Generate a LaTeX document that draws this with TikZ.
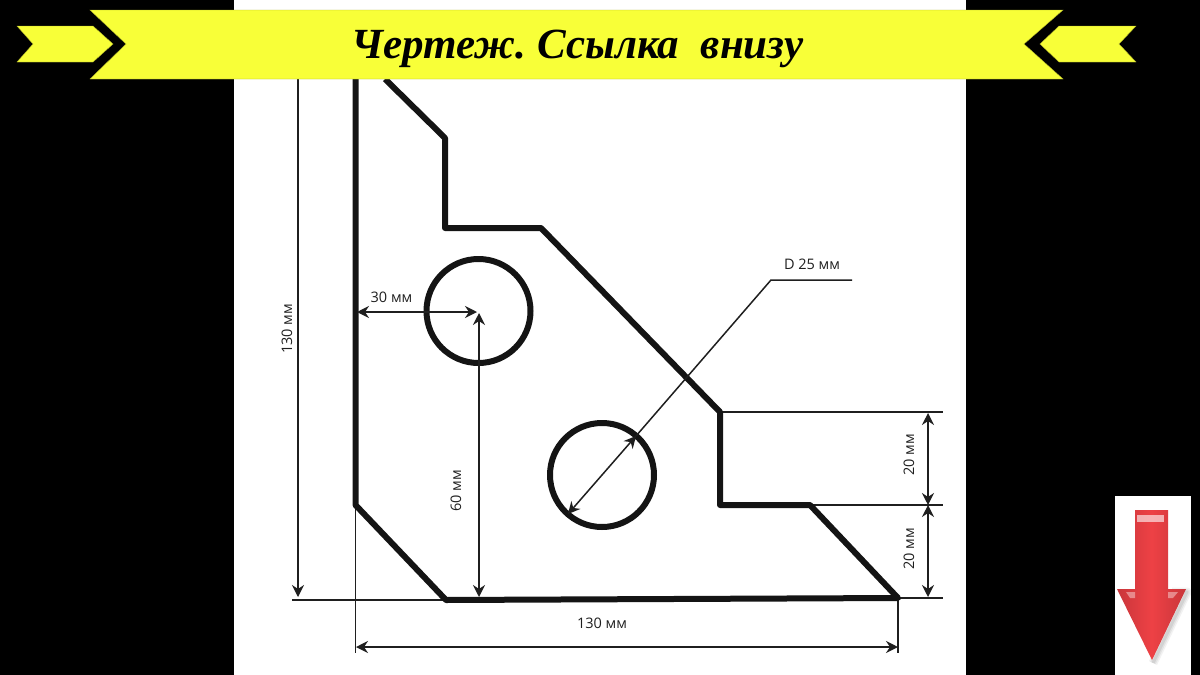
\documentclass[tikz,border=0pt]{standalone}
\usepackage{fontspec}
\setmainfont{Open Sans}
\newfontfamily\titlefont{Liberation Serif}
\usetikzlibrary{arrows.meta}
\definecolor{ribbon}{HTML}{F8FF38}
\definecolor{redmain}{HTML}{EE4145}
\definecolor{reddark}{HTML}{C9363B}
\tikzset{
  part/.style={draw=black!92,line width=6pt,line join=round,fill=none},
  hole/.style={draw=black!92,line width=6pt,fill=none},
  thin line/.style={draw=black!88,line width=1.5pt},
  dim/.style={thin line,{Stealth[length=12pt,width=12pt,inset=4pt]}-{Stealth[length=12pt,width=12pt,inset=4pt]}},
  dimend/.style={thin line,-{Stealth[length=12pt,width=12pt,inset=4pt]}},
  lab/.style={font=\fontsize{14.5}{16}\selectfont,text=black!88,inner sep=0pt},
  band/.style={fill=ribbon,draw=ribbon!70!black,line width=.4pt},
}
\begin{document}
\begin{tikzpicture}[x=1pt,y=-1pt]
\useasboundingbox (0,0) rectangle (1200,675);
\fill[black] (0,0) rectangle (1200,675);
\fill[white] (234,0) rectangle (966,675);

% named points of the part
\coordinate (p0) at (355.5,79);
\coordinate (p1) at (385,79);
\coordinate (p2) at (445,138);
\coordinate (p3) at (445,228);
\coordinate (p4) at (541,228);
\coordinate (p5) at (720,412);
\coordinate (p6) at (720,505);
\coordinate (p7) at (810,505);
\coordinate (p8) at (898,598);
\coordinate (p9) at (446,600);
\coordinate (p10) at (355.5,505);
\coordinate (c1) at (478.5,311);
\coordinate (c2) at (602,475);
\coordinate (e1) at (292,600);
\coordinate (e2) at (355.5,653);
\coordinate (e3) at (898,653);
\coordinate (e4) at (943,412);
\coordinate (e5) at (943,505);
\coordinate (e6) at (943,598);

% extension lines
\draw[thin line] (e1) -- (p9);
\draw[thin line] (p10) -- (e2);
\draw[thin line] (p8) -- (e3);
\draw[thin line] (p5) -- (e4);
\draw[thin line] (p7) -- (e5);
\draw[thin line] (p8) -- (e6);

% part
\draw[part] (p1) -- (p2) -- (p3) -- (p4) -- (p5) -- (p6) -- (p7) -- (p8) -- (p9) -- (p10) -- (p0);
\draw[hole] (c1) circle (52);
\draw[hole] (c2) circle (52);

% dimensions
\coordinate (d1a) at (298,79);
\coordinate (d1b) at (298,597);
\coordinate (d2a) at (357,312);
\coordinate (d2b) at (477,312);
\coordinate (d3a) at (479,313);
\coordinate (d3b) at (479,597);
\coordinate (d4a) at (356,647);
\coordinate (d4b) at (898,647);
\coordinate (d5a) at (928,413);
\coordinate (d5b) at (928,505);
\coordinate (d6b) at (928,597);
\coordinate (d7a) at (568,514);
\coordinate (d7b) at (636,436);
\coordinate (k1) at (771,280);
\coordinate (k2) at (852,280);
\draw[dimend] (d1a) -- (d1b);
\draw[dim] (d2a) -- (d2b);
\draw[dim] (d3a) -- (d3b);
\draw[dim] (d4a) -- (d4b);
\draw[dim] (d5a) -- (d5b);
\draw[dim] (d5b) -- (d6b);
\draw[dim] (d7a) -- (d7b);
\draw[thin line,line join=miter] (d7b) -- (k1) -- (k2);

\node[lab,rotate=90] (l130v) at (287,329) {130 мм};
\node[lab] (l30) at (391.5,297) {30 мм};
\node[lab,rotate=90] (l60) at (456,491) {60 мм};
\node[lab] (l130h) at (602,623) {130 мм};
\node[lab,rotate=90] (l20a) at (909,455) {20 мм};
\node[lab,rotate=90] (l20b) at (909,549) {20 мм};
\node[lab] (ld) at (812,264) {D 25 мм};

% ribbon
\path[band] (90,10) -- (1063,10) -- (1024,44) -- (1063,79) -- (90,79) -- (126,44) -- cycle;
\path[band] (17,26) -- (93,26) -- (113,44) -- (93,62) -- (17,62) -- (33,44) -- cycle;
\path[band] (1136,26) -- (1059,26) -- (1040,44) -- (1059,62) -- (1136,62) -- (1119,44) -- cycle;
\node[inner sep=0pt,text=black,anchor=base] (title) at (577.5,58) {\titlefont\bfseries\itshape\fontsize{43}{46}\selectfont Чертеж.~Ссылка~~внизу};

% red arrow panel
\fill[white] (1115,496) rectangle (1191,675);
\foreach \o/\w in {.05/9,.06/6,.07/3}{
  \path[draw=black,draw opacity=\o,line width=\w pt,line join=round]
    (1172,592) -- (1187,592) -- (1153,663);
}
\path[left color=reddark,right color=reddark,middle color=redmain]
  (1135,510) -- (1168,510) -- (1168,589) -- (1186,589) -- (1152,660) -- (1117,589) -- (1135,589) -- cycle;
\fill[white,opacity=.6] (1137,515) rectangle (1164,522);
\fill[white,opacity=.4] (1126,592) -- (1135,592) -- (1135,598) -- (1130,598) -- cycle;
\fill[white,opacity=.4] (1168,592) -- (1178,592) -- (1173,598) -- (1168,598) -- cycle;
\end{tikzpicture}
\end{document}
